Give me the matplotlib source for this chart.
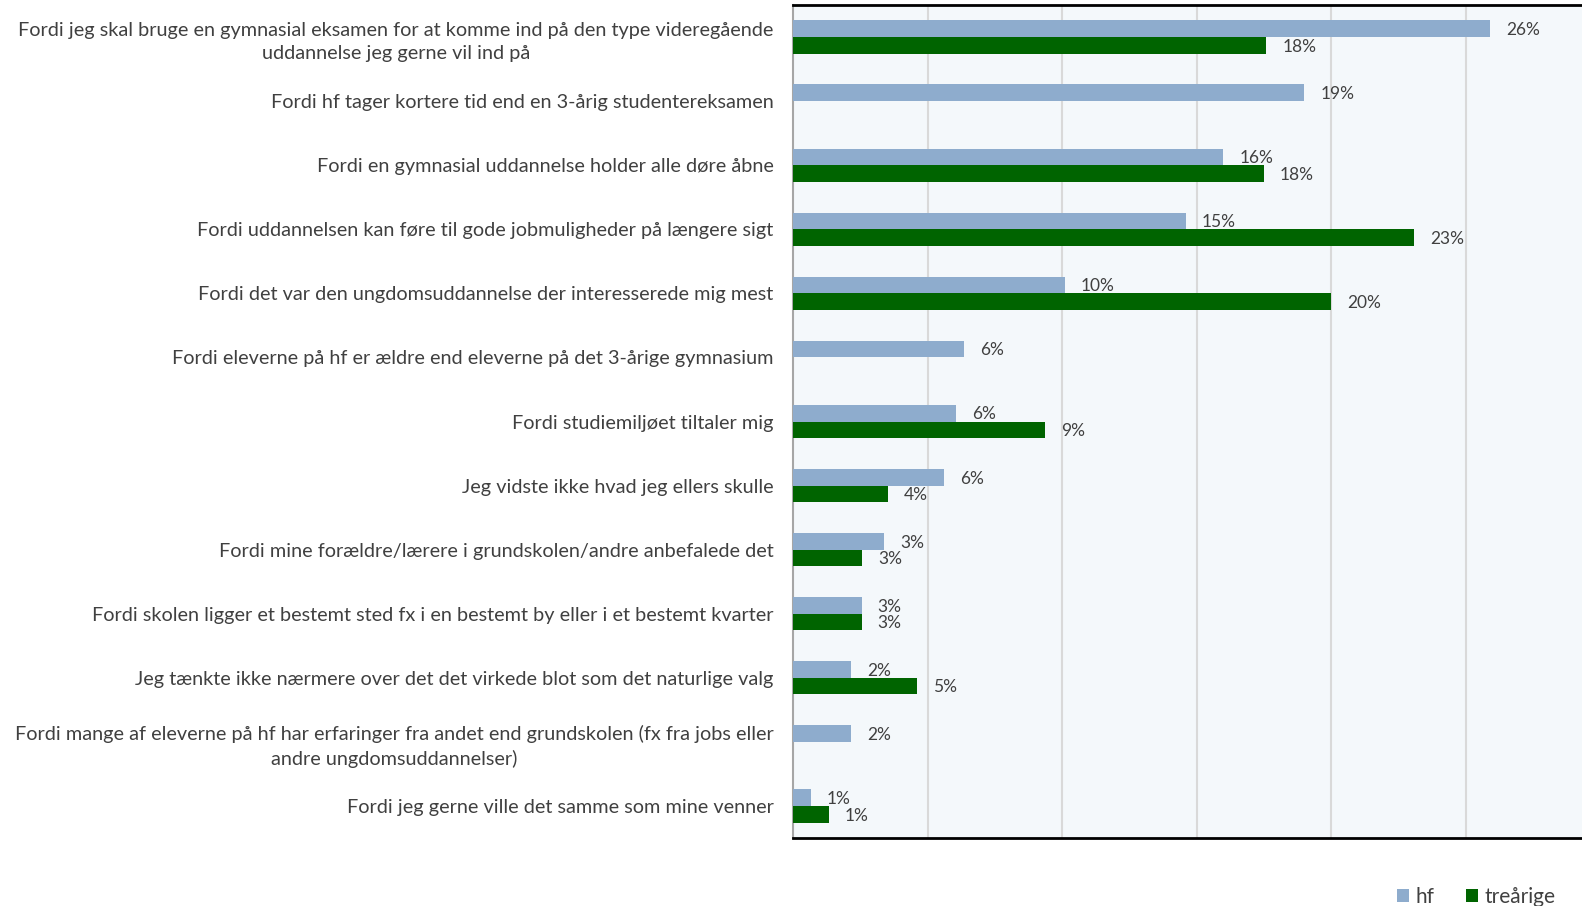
import numpy as np
import matplotlib.pyplot as plt

plt.rcParams["font.family"] = ["Lato", "DejaVu Sans"]

categories = [
    "Fordi jeg skal bruge en gymnasial eksamen for at komme ind på den type videregående\nuddannelse jeg gerne vil ind på",
    "Fordi hf tager kortere tid end en 3-årig studentereksamen",
    "Fordi en gymnasial uddannelse holder alle døre åbne",
    "Fordi uddannelsen kan føre til gode jobmuligheder på længere sigt",
    "Fordi det var den ungdomsuddannelse der interesserede mig mest",
    "Fordi eleverne på hf er ældre end eleverne på det 3-årige gymnasium",
    "Fordi studiemiljøet tiltaler mig",
    "Jeg vidste ikke hvad jeg ellers skulle",
    "Fordi mine forældre/lærere i grundskolen/andre anbefalede det",
    "Fordi skolen ligger et bestemt sted fx i en bestemt by eller i et bestemt kvarter",
    "Jeg tænkte ikke nærmere over det det virkede blot som det naturlige valg",
    "Fordi mange af eleverne på hf har erfaringer fra andet end grundskolen (fx fra jobs eller\nandre ungdomsuddannelser)",
    "Fordi jeg gerne ville det samme som mine venner",
]
hf = [25.9, 19.0, 16.0, 14.6, 10.1, 6.36, 6.07, 5.6, 3.4, 2.55, 2.16, 2.16, 0.66]
trearige = [17.6, np.nan, 17.5, 23.1, 20.0, np.nan, 9.36, 3.52, 2.58, 2.55, 4.6, np.nan, 1.33]

hf_color = "#8EACCD"
tre_color = "#006400"
text_color = "#404040"

fig = plt.figure(figsize=(15.82, 9.06), dpi=100)
ax = fig.add_axes([793 / 1582, 1 - 838 / 906, (1600 - 793) / 1582, 833 / 906])
ax.set_facecolor("#F4F8FB")

y = np.arange(len(categories))
h = 0.26
ax.barh(y - h / 2, hf, height=h, color=hf_color, label="hf", zorder=3)
ax.barh(y + h / 2, trearige, height=h, color=tre_color, label="treårige", zorder=3)

for yi, v in zip(y, hf):
    ax.text(v + 0.6, yi - h / 2 + 0.02, f"{v:.0f}%", va="center", ha="left", fontsize=12.5, color=text_color)
for yi, v in zip(y, trearige):
    if not np.isnan(v):
        ax.text(v + 0.6, yi + h / 2 + 0.02, f"{v:.0f}%", va="center", ha="left", fontsize=12.5, color=text_color)

ax.set_xlim(0, 30)
ax.set_ylim(len(categories) - 0.5, -0.5)
ax.set_xticks([5, 10, 15, 20, 25])
ax.set_xticklabels([])
ax.tick_params(axis="x", length=0)
ax.grid(axis="x", color="#D9D9D9", linewidth=1.5, zorder=0)

ax.set_yticks(y)
ax.set_yticklabels(categories, fontsize=14.3, color=text_color, linespacing=1.45)
ax.tick_params(axis="y", length=0, pad=14)
for lbl in ax.get_yticklabels():
    lbl.set_horizontalalignment("right")
    lbl.set_multialignment("center")

ax.spines["right"].set_visible(False)
ax.spines["left"].set_color("#A6A6A6")
ax.spines["left"].set_linewidth(1.5)
ax.spines["top"].set_color("black")
ax.spines["top"].set_linewidth(2)
ax.spines["bottom"].set_color("black")
ax.spines["bottom"].set_linewidth(2)

leg = fig.legend(loc="center right", bbox_to_anchor=(0.995, 0.01), ncol=2, frameon=False,
                 fontsize=15, handlelength=0.6, handleheight=0.6, handletextpad=0.3, columnspacing=1.5)
for t in leg.get_texts():
    t.set_color(text_color)

fig.savefig("out.png", dpi=100)
